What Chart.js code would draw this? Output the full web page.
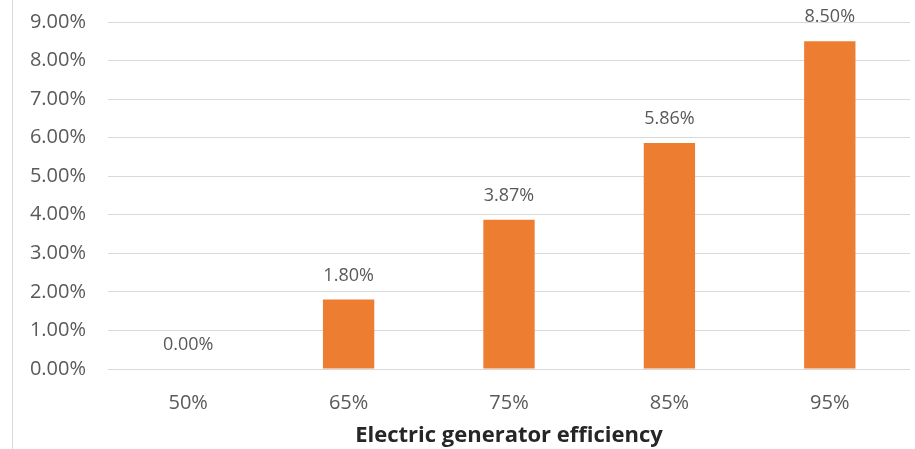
<!DOCTYPE html>
<html>
<head>
<meta charset="utf-8">
<script src="https://cdn.jsdelivr.net/npm/chart.js@4/dist/chart.umd.min.js"></script>
<style>
  html, body { margin: 0; padding: 0; background: #fff; }
  .wrap { position: relative; width: 915px; height: 449px; }
  .wrap::before { content: ''; position: absolute; left: 12px; top: 0; bottom: 0; border-left: 1px solid #d9d9d9; }
</style>
</head>
<body>
<div class="wrap"><canvas id="chart" width="915" height="449"></canvas></div>
<script>
// 데이터
const categories = ['50%', '65%', '75%', '85%', '95%'];
const values = [0.00, 1.80, 3.87, 5.86, 8.50];
const yTicks = [0, 1, 2, 3, 4, 5, 6, 7, 8, 9];
const xTitle = 'Electric generator efficiency';

const FONT = '"Open Sans", "Liberation Sans", sans-serif';

// 막대 위 값 라벨
const valueLabels = {
    id: 'valueLabels',
    afterDatasetsDraw(chart) {
        const ctx = chart.ctx;
        const meta = chart.getDatasetMeta(0);
        ctx.save();
        ctx.font = '18px ' + FONT;
        ctx.fillStyle = '#595959';
        ctx.textAlign = 'center';
        ctx.textBaseline = 'middle';
        meta.data.forEach((bar, i) => {
            ctx.fillText(values[i].toFixed(2) + '%', bar.x, bar.y - 24);
        });
        ctx.restore();
    }
};

new Chart(document.getElementById('chart'), {
    type: 'bar',
    data: {
        labels: categories,
        datasets: [{
            data: values,
            backgroundColor: '#ED7D31',
            categoryPercentage: 1,
            barPercentage: 0.32
        }]
    },
    options: {
        responsive: false,
        animation: false,
        layout: { padding: { left: 12, right: 5, top: 22, bottom: 0 } },
        plugins: { legend: { display: false }, tooltip: { enabled: false } },
        scales: {
            x: {
                grid: { display: false },
                border: { display: false },
                ticks: { color: '#595959', font: { size: 20, family: FONT }, padding: 14 },
                title: {
                    display: true,
                    text: xTitle,
                    color: '#262626',
                    font: { size: 22, weight: 'bold', family: FONT },
                    padding: { top: 6, bottom: 0 }
                },
                afterFit: s => { s.height = 80; s.paddingLeft = 0; s.paddingRight = 0; }
            },
            y: {
                min: 0,
                max: 9,
                afterBuildTicks: s => { s.ticks = yTicks.map(v => ({ value: v })); },
                grid: { color: '#d9d9d9', drawTicks: false },
                border: { display: false },
                ticks: {
                    color: '#595959',
                    font: { size: 20, family: FONT },
                    padding: 22,
                    callback: v => v.toFixed(2) + '%'
                },
                afterFit: s => { s.width = 96; s.paddingTop = 0; s.paddingBottom = 0; }
            }
        }
    },
    plugins: [valueLabels]
});
</script>
</body>
</html>
